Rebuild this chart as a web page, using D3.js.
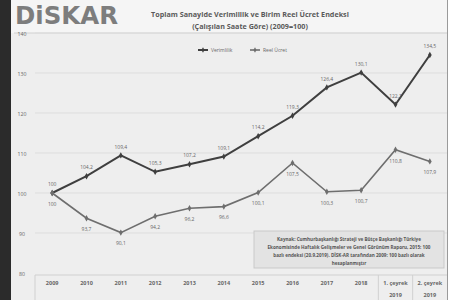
<!DOCTYPE html>
<html>
<head>
<meta charset="utf-8">
<script src="https://cdn.jsdelivr.net/npm/d3@7"></script>
<style>
  body { margin: 0; background: #fff; }
  svg { display: block; font-family: "Open Sans", "Liberation Sans", sans-serif; }
</style>
</head>
<body>
<div id="chart"></div>
<script>
// categories on the x axis (second line used for the 2019 quarters)
var categories = ["2009", "2010", "2011", "2012", "2013", "2014", "2015", "2016", "2017", "2018", "1. çeyrek", "2. çeyrek"];
var subLabels = ["", "", "", "", "", "", "", "", "", "", "2019", "2019"];

var verimlilik = [100, 104.2, 109.4, 105.3, 107.2, 109.1, 114.2, 119.3, 126.4, 130.1, 122.1, 134.5];
var reelUcret = [100, 93.7, 90.1, 94.2, 96.2, 96.6, 100.1, 107.5, 100.3, 100.7, 110.8, 107.9];

var yTicks = [80, 90, 100, 110, 120, 130, 140];

var titleLines = ["Toplam Sanayide Verimlilik ve  Birim Reel Ücret Endeksi", "(Çalışılan Saate Göre) (2009=100)"];
var legendNames = ["Verimlilik", "Reel Ücret"];
var sourceLines = [
    "Kaynak: Cumhurbaşkanlığı Strateji ve Bütçe Başkanlığı Türkiye",
    "Ekonomisinde Haftalık Gelişmeler ve Genel Görünüm Raporu, 2015: 100",
    "bazlı endeksi  (20.9.2019). DİSK-AR tarafından 2009: 100 bazlı olarak",
    "hesaplanmıştır"
];

var W = 454, H = 308;

var svg = d3.select("#chart")
    .append("svg")
    .attr("width", W)
    .attr("height", H);

// page background pieces
svg.append("rect").attr("x", 0).attr("y", 0).attr("width", W).attr("height", H).attr("fill", "#ffffff");
svg.append("rect").attr("x", 0).attr("y", 0).attr("width", 11).attr("height", 300).attr("fill", "#2b2b2b");
svg.append("rect").attr("x", 11).attr("y", 0).attr("width", 436).attr("height", 300).attr("fill", "#eeeeee");
svg.append("rect").attr("x", 11).attr("y", 0).attr("width", 436).attr("height", 33).attr("fill", "#f5f5f5");
svg.append("line").attr("x1", 14).attr("x2", 447).attr("y1", 33).attr("y2", 33)
    .attr("stroke", "#d0d0d0").attr("stroke-width", 1);
svg.append("line").attr("x1", 447.5).attr("x2", 447.5).attr("y1", 0).attr("y2", 300)
    .attr("stroke", "#9a9a9a").attr("stroke-width", 1);

// logo
svg.append("text")
    .attr("x", 15).attr("y", 24)
    .attr("font-family", "DejaVu Sans")
    .attr("font-weight", "bold")
    .attr("font-size", 25)
    .attr("textLength", 103)
    .attr("lengthAdjust", "spacingAndGlyphs")
    .attr("fill", "#7d7d7d")
    .text("DiSKAR");

// title
svg.selectAll(".title")
    .data(titleLines)
    .enter()
    .append("text")
    .attr("class", "title")
    .attr("x", 250)
    .attr("y", function (d, i) { return 17 + i * 12; })
    .attr("text-anchor", "middle")
    .attr("font-size", 7.2)
    .attr("font-weight", "bold")
    .attr("fill", "#5a5a5a")
    .text(function (d) { return d; });

var x = d3.scaleBand()
    .domain(categories)
    .range([35, 447]);

var y = d3.scaleLinear()
    .domain([80, 140])
    .range([273, 33]);

var cx = function (d, i) { return x(categories[i]) + x.bandwidth() / 2; };

// gridlines
svg.append("g")
    .selectAll("line")
    .data(yTicks.slice(1))
    .enter()
    .append("line")
    .attr("x1", 35).attr("x2", 447)
    .attr("y1", function (d) { return y(d); })
    .attr("y2", function (d) { return y(d); })
    .attr("stroke", "#dddddd")
    .attr("stroke-width", 1);

// y labels
svg.append("g")
    .selectAll("text")
    .data(yTicks)
    .enter()
    .append("text")
    .attr("x", 22)
    .attr("y", function (d) { return y(d) + 0.8; })
    .attr("dy", "0.35em")
    .attr("text-anchor", "middle")
    .attr("font-size", 5.2)
    .attr("fill", "#666")
    .text(function (d) { return d; });

// category table
var tableTop = y(80) + 2;
svg.append("line").attr("x1", 35).attr("x2", 447).attr("y1", tableTop).attr("y2", tableTop)
    .attr("stroke", "#d0d0d0");
svg.append("line").attr("x1", 35).attr("x2", 35).attr("y1", tableTop).attr("y2", 300)
    .attr("stroke", "#d0d0d0");
[categories[10], categories[11]].forEach(function (c) {
    svg.append("line").attr("x1", x(c)).attr("x2", x(c)).attr("y1", tableTop).attr("y2", 300)
        .attr("stroke", "#d0d0d0");
});

svg.append("g")
    .selectAll("text")
    .data(categories)
    .enter()
    .append("text")
    .attr("x", function (d) { return x(d) + x.bandwidth() / 2; })
    .attr("y", 285)
    .attr("text-anchor", "middle")
    .attr("font-size", 5.5)
    .attr("font-weight", "bold")
    .attr("fill", "#666")
    .text(function (d) { return d; });

svg.append("g")
    .selectAll("text")
    .data(subLabels)
    .enter()
    .append("text")
    .attr("x", function (d, i) { return cx(d, i); })
    .attr("y", 297)
    .attr("text-anchor", "middle")
    .attr("font-size", 5.5)
    .attr("font-weight", "bold")
    .attr("fill", "#666")
    .text(function (d) { return d; });

// source box
svg.append("rect")
    .attr("x", 254).attr("y", 231).attr("width", 190).attr("height", 37)
    .attr("fill", "#e3e3e3").attr("stroke", "#c9c9c9").attr("stroke-width", 1);
svg.selectAll(".src")
    .data(sourceLines)
    .enter()
    .append("text")
    .attr("class", "src")
    .attr("x", 349)
    .attr("y", function (d, i) { return 241 + i * 8; })
    .attr("text-anchor", "middle")
    .attr("font-size", 4.6)
    .attr("font-weight", "bold")
    .attr("fill", "#555")
    .text(function (d) { return d; });

// series
var line = d3.line()
    .x(function (d, i) { return cx(d, i); })
    .y(function (d) { return y(d); });

var series = [
    { name: legendNames[0], values: verimlilik, color: "#3f3f3f", width: 2, dy: -8.5 },
    { name: legendNames[1], values: reelUcret, color: "#6e6e6e", width: 1.6, dy: 11 }
];

series.forEach(function (s) {
    svg.append("path")
        .datum(s.values)
        .attr("d", line)
        .attr("fill", "none")
        .attr("stroke", s.color)
        .attr("stroke-width", s.width)
        .attr("stroke-linejoin", "miter");

    svg.append("g")
        .selectAll("path")
        .data(s.values)
        .enter()
        .append("path")
        .attr("d", d3.symbol().type(d3.symbolDiamond).size(12))
        .attr("transform", function (d, i) { return "translate(" + cx(d, i) + "," + y(d) + ")"; })
        .attr("fill", s.color);

    svg.append("g")
        .selectAll("text")
        .data(s.values)
        .enter()
        .append("text")
        .attr("x", function (d, i) { return cx(d, i); })
        .attr("y", function (d) { return y(d) + s.dy; })
        .attr("dy", "0.35em")
        .attr("text-anchor", "middle")
        .attr("font-size", 5)
        .attr("fill", "#666")
        .text(function (d) { return d3.format(".1f")(d).replace(".", ",").replace(",0", ""); });
});

// legend
var legendX = [198, 250];
series.forEach(function (s, i) {
    var lx = legendX[i];
    svg.append("line").attr("x1", lx).attr("x2", lx + 10).attr("y1", 50).attr("y2", 50)
        .attr("stroke", s.color).attr("stroke-width", s.width);
    svg.append("path")
        .attr("d", d3.symbol().type(d3.symbolDiamond).size(8))
        .attr("transform", "translate(" + (lx + 5) + ",50)")
        .attr("fill", s.color);
    svg.append("text")
        .attr("x", lx + 13).attr("y", 50)
        .attr("dy", "0.35em")
        .attr("font-size", 5)
        .attr("fill", "#666")
        .text(s.name);
});
</script>
</body>
</html>
